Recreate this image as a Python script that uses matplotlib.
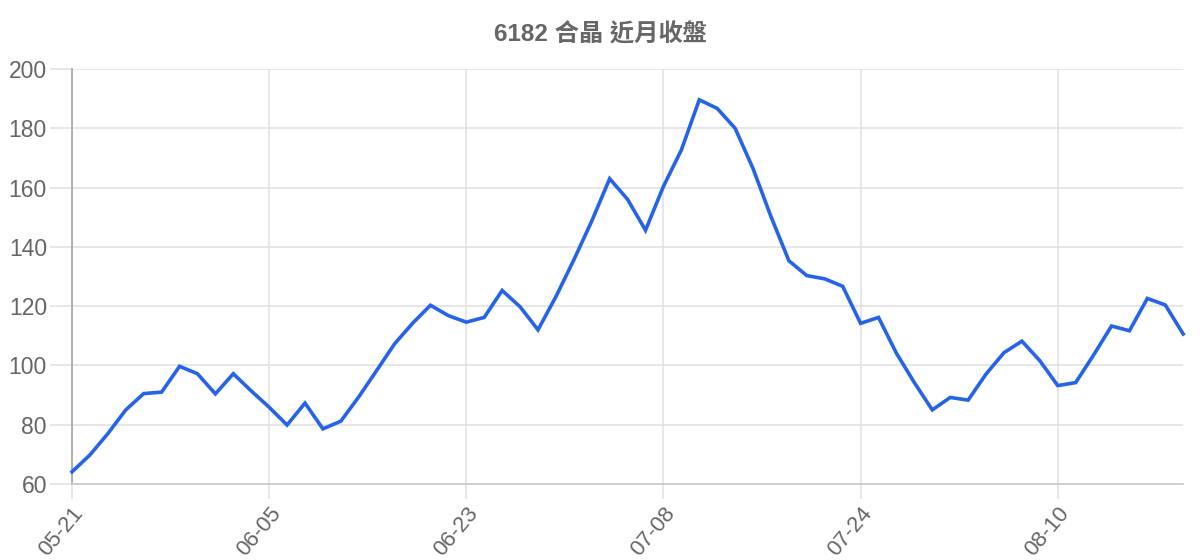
#!/usr/bin/env python
import numpy as np
import matplotlib
matplotlib.use('Agg')
import matplotlib.pyplot as plt

# closing prices
closes = [64.1, 69.8, 77.0, 85.0, 90.5, 91.0, 99.7, 97.2, 90.4, 97.2,
          91.4, 85.9, 79.9, 87.3, 78.6, 81.2, 89.4, 98.3, 107.3, 114.2,
          120.3, 116.8, 114.6, 116.2, 125.3, 119.8, 112.0, 123.2, 135.6, 148.7,
          163.0, 156.0, 145.6, 160.4, 172.7, 189.6, 186.7, 180.0, 166.4, 150.2,
          135.3, 130.3, 129.2, 126.7, 114.2, 116.2, 104.1, 94.2, 85.0, 89.2,
          88.3, 97.1, 104.3, 108.2, 101.6, 93.2, 94.2, 103.5, 113.3, 111.7,
          122.6, 120.4, 110.6]
tick_labels = ['05-21', '06-05', '06-23', '07-08', '07-24', '08-10']
tick_step = 11
y_ticks = [60, 80, 100, 120, 140, 160, 180, 200]

title = '6182 合晶 近月收盤'
fonts = ['Liberation Sans', 'Noto Sans CJK TC', 'DejaVu Sans']


def main():
    plt.rcParams['font.family'] = fonts
    fig = plt.figure(figsize=(12, 5.6), dpi=100)
    ax = fig.add_axes([0.06, 0.1357, 0.926, 0.7411])

    x = np.arange(len(closes))
    ax.plot(x, closes, color='#2563eb', lw=2.6, solid_joinstyle='miter',
            clip_on=False, zorder=3)

    ax.set_xlim(0, len(closes) - 1)
    ax.set_ylim(60, 200)
    ax.set_yticks(y_ticks)
    ax.set_xticks(x[::tick_step])
    ax.set_xticklabels(tick_labels, rotation=50, ha='right',
                       rotation_mode='anchor')

    ax.grid(True, color='#e0e0e0', lw=1.1)
    ax.set_axisbelow(True)
    for s in ('top', 'right'):
        ax.spines[s].set_visible(False)
    ax.spines['left'].set_color('#aaaaaa')
    ax.spines['left'].set_linewidth(1.3)
    ax.spines['bottom'].set_color('#cccccc')
    ax.spines['bottom'].set_linewidth(1.3)

    ax.tick_params(axis='y', length=16, width=1.1, color='#e0e0e0',
                   labelsize=16.5, labelcolor='#666666', pad=2)
    ax.tick_params(axis='x', length=11, width=1.1, color='#e0e0e0',
                   labelsize=16, labelcolor='#666666', pad=3)
    ax.get_xticklines()[0].set_color('#aaaaaa')

    fig.text(0.5, 0.937, title, ha='center', va='center', fontsize=17.5,
             fontweight='bold', color='#666666')

    fig.savefig('out.png', dpi=100)


if __name__ == '__main__':
    main()
